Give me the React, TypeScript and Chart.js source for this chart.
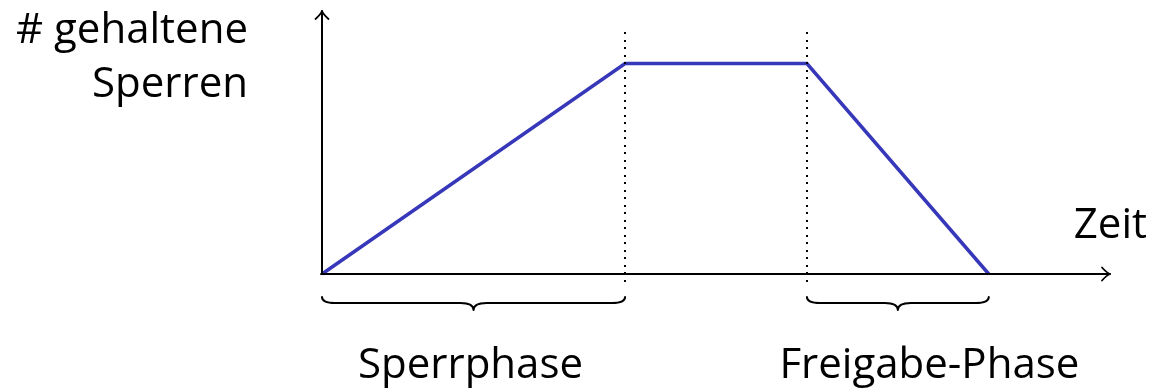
import React, { useEffect, useRef } from "react";
import { Chart, registerables } from "chart.js";

Chart.register(...registerables);

// time values (x) and number of held locks (y)
const timePoints = [0, 5, 8, 11];
const heldLocks = [0, 8, 8, 0];
const xAxisMax = 13;
const yAxisMax = 10;
// dotted phase boundaries (time values) and their vertical span (y values)
const phaseBoundaries = [5, 8];
const boundarySpan = [-0.42, 9.2];
// braces: [startTime, endTime], labels and label centres (time values)
const braceRanges = [
  [0, 5],
  [8, 11],
];
const braceLabels = ["Sperrphase", "Freigabe-Phase"];
const braceLabelCentres = [2.45, 10.02];
const yAxisTitle = ["# gehaltene", "Sperren"];
const xAxisTitle = "Zeit";

const FONT = '"Open Sans", "Noto Sans", sans-serif';
const LINE_COLOR = "#3737b9";

const decorPlugin = {
  id: "decor",
  afterDatasetsDraw(chart: any) {
    const ctx = chart.ctx as CanvasRenderingContext2D;
    const xs = chart.scales.x;
    const ys = chart.scales.y;
    const x0 = xs.getPixelForValue(0);
    const y0 = ys.getPixelForValue(0);
    const xEnd = xs.getPixelForValue(xAxisMax);
    const yEnd = ys.getPixelForValue(yAxisMax);
    ctx.save();

    // dotted boundaries
    ctx.fillStyle = "#000";
    for (const b of phaseBoundaries) {
      const px = Math.round(xs.getPixelForValue(b));
      const top = ys.getPixelForValue(boundarySpan[1]);
      const bot = ys.getPixelForValue(boundarySpan[0]);
      for (let y = top; y <= bot; y += 7.5) {
        ctx.fillRect(px - 1, Math.round(y), 2, 2);
      }
    }

    // axes
    ctx.strokeStyle = "#000";
    ctx.lineWidth = 2;
    ctx.lineCap = "round";
    ctx.lineJoin = "round";
    ctx.beginPath();
    ctx.moveTo(x0, y0);
    ctx.lineTo(x0, yEnd);
    ctx.moveTo(x0 - 1, y0);
    ctx.lineTo(xEnd, y0);
    ctx.stroke();
    // arrowheads
    ctx.lineWidth = 1.8;
    ctx.beginPath();
    ctx.moveTo(x0 - 6.5, yEnd + 8);
    ctx.quadraticCurveTo(x0 - 1, yEnd + 3, x0, yEnd);
    ctx.quadraticCurveTo(x0 + 1, yEnd + 3, x0 + 6.5, yEnd + 8);
    ctx.moveTo(xEnd - 8, y0 - 6.5);
    ctx.quadraticCurveTo(xEnd - 3, y0 - 1, xEnd, y0);
    ctx.quadraticCurveTo(xEnd - 3, y0 + 1, xEnd - 8, y0 + 6.5);
    ctx.stroke();

    // braces
    ctx.lineWidth = 2;
    const bTop = y0 + 23;
    const bMid = y0 + 29;
    const bTip = y0 + 36;
    const r = 13;
    braceRanges.forEach(([a, b], i) => {
      const xa = xs.getPixelForValue(a);
      const xb = xs.getPixelForValue(b);
      const xm = (xa + xb) / 2;
      ctx.beginPath();
      ctx.moveTo(xa, bTop);
      ctx.quadraticCurveTo(xa, bMid, xa + r, bMid);
      ctx.lineTo(xm - r, bMid);
      ctx.quadraticCurveTo(xm, bMid, xm, bTip);
      ctx.quadraticCurveTo(xm, bMid, xm + r, bMid);
      ctx.lineTo(xb - r, bMid);
      ctx.quadraticCurveTo(xb, bMid, xb, bTop);
      ctx.stroke();
      // label
      ctx.font = `42px ${FONT}`;
      ctx.textAlign = "center";
      ctx.textBaseline = "alphabetic";
      ctx.fillStyle = "#000";
      ctx.fillText(braceLabels[i], xs.getPixelForValue(braceLabelCentres[i]), y0 + 104);
    });

    // axis titles
    ctx.font = `42px ${FONT}`;
    ctx.textAlign = "right";
    ctx.fillText(yAxisTitle[0], x0 - 74, yEnd + 32);
    ctx.fillText(yAxisTitle[1], x0 - 74, yEnd + 86);
    ctx.fillText(xAxisTitle, xEnd + 37, y0 - 36);
    ctx.restore();
  },
};

export default function App() {
  const ref = useRef<HTMLCanvasElement>(null);
  useEffect(() => {
    if (!ref.current) return;
    const chart = new Chart(ref.current, {
      type: "line",
      data: {
        datasets: [
          {
            data: timePoints.map((t, i) => ({ x: t, y: heldLocks[i] })),
            borderColor: LINE_COLOR,
            borderWidth: 3.5,
            pointRadius: 0,
            tension: 0,
            fill: false,
            clip: false as any,
          },
        ],
      },
      options: {
        animation: false,
        responsive: false,
        maintainAspectRatio: false,
        layout: { padding: { left: 322, right: 40, top: 11, bottom: 116 } },
        plugins: { legend: { display: false }, tooltip: { enabled: false } },
        scales: {
          x: { type: "linear", min: 0, max: xAxisMax, display: false },
          y: { type: "linear", min: 0, max: yAxisMax, display: false },
        },
      },
      plugins: [decorPlugin],
    });
    return () => chart.destroy();
  }, []);
  return (
    <div style={{ position: "fixed", left: 0, top: 0, width: 1150, height: 390, background: "#fff" }}>
      <canvas ref={ref} width={1150} height={390} style={{ display: "block" }} />
    </div>
  );
}
